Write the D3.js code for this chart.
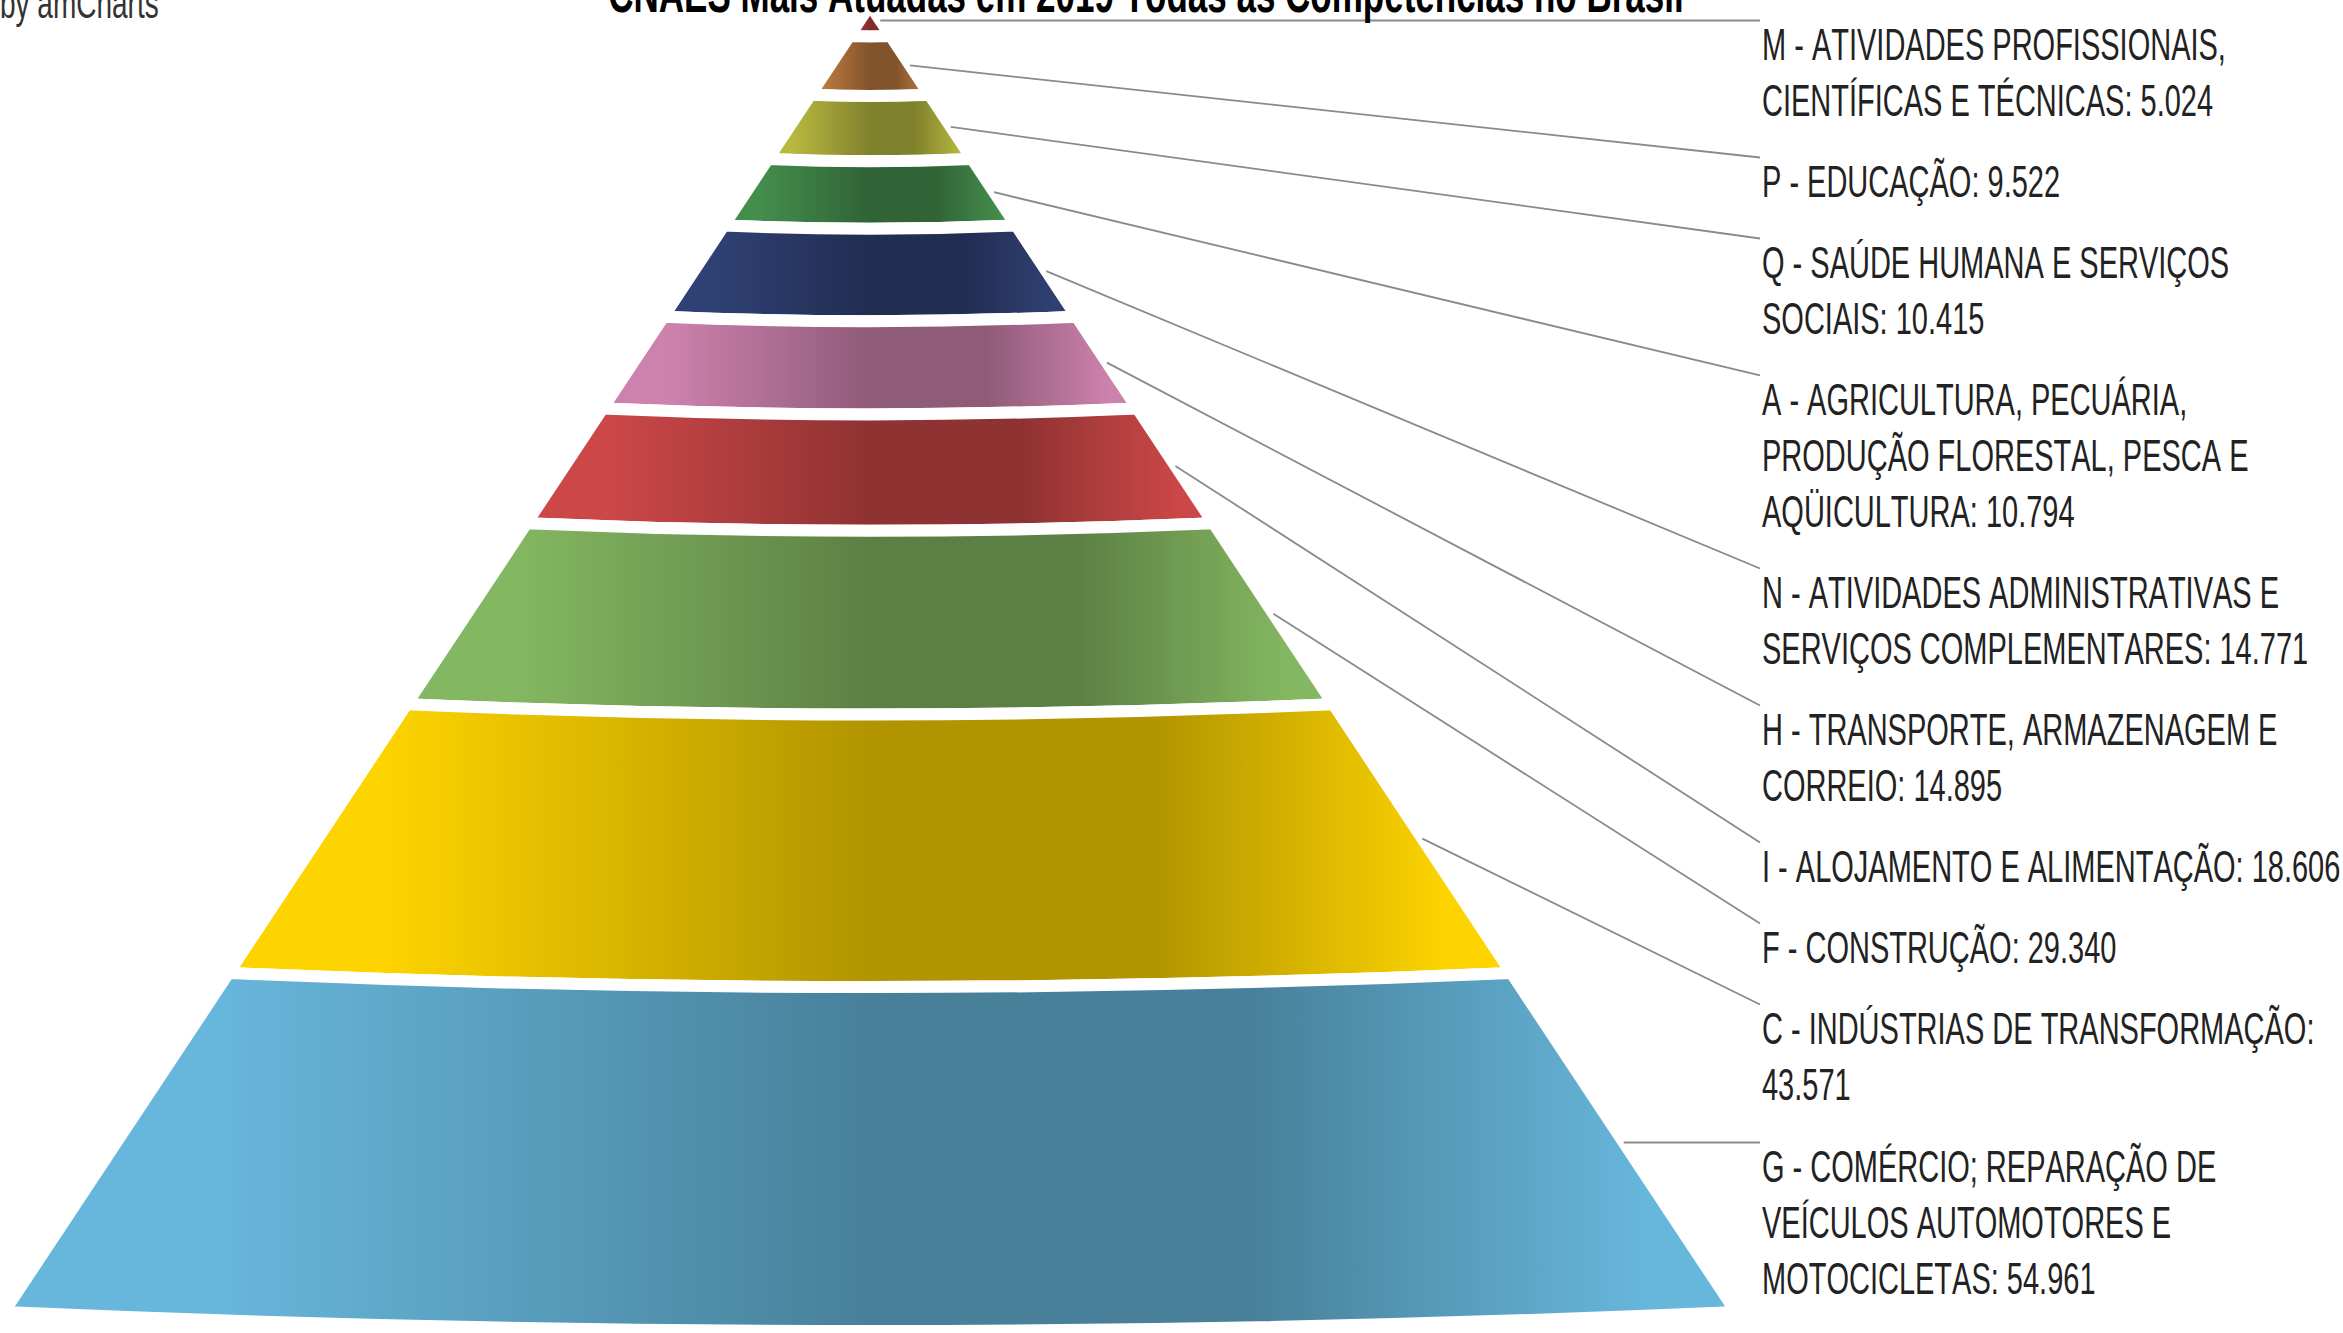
<!DOCTYPE html>
<html>
<head>
<meta charset="utf-8">
<script src="https://cdn.jsdelivr.net/npm/d3@7"></script>
<style>
  body { margin: 0; background: #fff; }
  svg { display: block; }
  text { font-family: "Liberation Sans", Arial, sans-serif; font-kerning: none; }
</style>
</head>
<body>
<div class="chart"></div>
<script>
// data, bottom slice first (amCharts order)
const categories = [
    "G - COMÉRCIO; REPARAÇÃO DE VEÍCULOS AUTOMOTORES E MOTOCICLETAS",
    "C - INDÚSTRIAS DE TRANSFORMAÇÃO",
    "F - CONSTRUÇÃO",
    "I - ALOJAMENTO E ALIMENTAÇÃO",
    "H - TRANSPORTE, ARMAZENAGEM E CORREIO",
    "N - ATIVIDADES ADMINISTRATIVAS E SERVIÇOS COMPLEMENTARES",
    "A - AGRICULTURA, PECUÁRIA, PRODUÇÃO FLORESTAL, PESCA E AQÜICULTURA",
    "Q - SAÚDE HUMANA E SERVIÇOS SOCIAIS",
    "P - EDUCAÇÃO",
    "M - ATIVIDADES PROFISSIONAIS, CIENTÍFICAS E TÉCNICAS"
];
const values = [54961, 43571, 29340, 18606, 14895, 14771, 10794, 10415, 9522, 5024];
const title = "CNAES Mais Atuadas em 2019 Todas as Competências no Brasil";
const credit = "by amCharts";

const palette = ["#67b7dc", "#fdd400", "#84b761", "#cc4748", "#cd82ad",
                 "#2f4074", "#448e4d", "#b7b83f", "#b9783f", "#b93e3d"];

function Charting(){

    const width = 2343, height = 1333;
    const stretch = 1.55;   // the screenshot is stretched vertically
    const apexY = 5, baseY = 1312, cx = 870, halfBase = 866;
    const fontSize = 29, lineH = 56, gapL = 25;
    const labelX = 1762, tickEnd = 1760, wrapW = 589;

    const svg = d3.select(".chart").append("svg")
    .attr("width", width)
    .attr("height", height);

    // top slice first for stacking
    const rows = categories.map((c, i) => ({name: c, value: values[i]})).reverse();
    let acc = 0;
    rows.forEach(d => { d.start = acc; acc += d.value; d.end = acc; });

    const yScale = d3.scaleLinear()
    .domain([0, acc])
    .range([apexY, baseY]);

    const wScale = d3.scaleLinear()
    .domain([apexY, baseY])
    .range([0, halfBase]);

    const colorScale = d3.scaleOrdinal()
    .domain(categories)
    .range(palette);

    const fmt = d3.formatLocale({decimal: ",", thousands: ".", grouping: [3], currency: ["R$", ""]}).format(",d");

    const defs = svg.append("defs");
    rows.forEach((d, i) => {
        const base = d3.color(colorScale(d.name));
        const dark = base.darker(1);
        const g = defs.append("linearGradient")
        .attr("id", "grad" + i)
        .attr("x1", 0).attr("x2", 1).attr("y1", 0).attr("y2", 0);
        [[0, base], [0.12, base], [0.5, dark], [0.72, dark], [0.95, base], [1, base]]
        .forEach(s => g.append("stop").attr("offset", s[0]).attr("stop-color", s[1]));
    });

    function slicePath(d){
        const y0 = yScale(d.start), y1 = yScale(d.end);
        const w0 = wScale(y0), w1 = wScale(y1);
        const s0 = w0 * 0.022, s1 = w1 * 0.022;
        const p = d3.path();
        p.moveTo(cx - w0, y0);
        p.quadraticCurveTo(cx, y0 + 2 * s0, cx + w0, y0);
        p.lineTo(cx + w1, y1);
        p.quadraticCurveTo(cx, y1 + 2 * s1, cx - w1, y1);
        p.closePath();
        return p.toString();
    }

    svg.append("g")
    .selectAll("path")
    .data(rows)
    .enter()
    .append("path")
    .attr("d", slicePath)
    .attr("fill", (d, i) => "url(#grad" + i + ")")
    .attr("stroke", "#fff")
    .attr("stroke-width", 12)
    .attr("stroke-linejoin", "round");

    function wrap(text, str, maxW){
        const words = str.split(" ");
        let line = [], n = 0;
        let tspan = text.append("tspan").attr("x", 0).attr("dy", 0);
        words.forEach(w => {
            line.push(w);
            tspan.text(line.join(" "));
            if (tspan.node().getComputedTextLength() > maxW && line.length > 1) {
                line.pop();
                tspan.text(line.join(" "));
                line = [w];
                n++;
                tspan = text.append("tspan").attr("x", 0).attr("dy", lineH / stretch).text(w);
            }
        });
        return n + 1;
    }

    const ticks = svg.append("g");
    const labels = svg.append("g");
    let nextY = -Infinity;
    rows.forEach(d => {
        const midY = (yScale(d.start) + yScale(d.end)) / 2;
        const t = labels.append("text")
        .attr("font-size", fontSize)
        .attr("fill", "#222");
        const n = wrap(t, d.name + ": " + fmt(d.value), wrapW);
        const anchor = Math.max(midY, nextY);
        nextY = anchor + n * lineH + gapL;
        t.attr("transform", `translate(${labelX},${anchor + 40}) scale(1,${stretch})`);

        ticks.append("line")
        .attr("x1", cx + wScale(midY))
        .attr("y1", midY)
        .attr("x2", tickEnd)
        .attr("y2", anchor)
        .attr("stroke", "#8a8a8a")
        .attr("stroke-width", 1.8);
    });

    svg.append("text")
    .attr("transform", `translate(1146,12) scale(1,${stretch})`)
    .attr("text-anchor", "middle")
    .attr("font-size", 35)
    .attr("font-weight", "bold")
    .attr("fill", "#000")
    .text(title);

    svg.append("text")
    .attr("transform", `translate(0,18) scale(1,${stretch})`)
    .attr("font-size", 28)
    .attr("fill", "#333")
    .text(credit);
}

Charting()
</script>
</body>
</html>
